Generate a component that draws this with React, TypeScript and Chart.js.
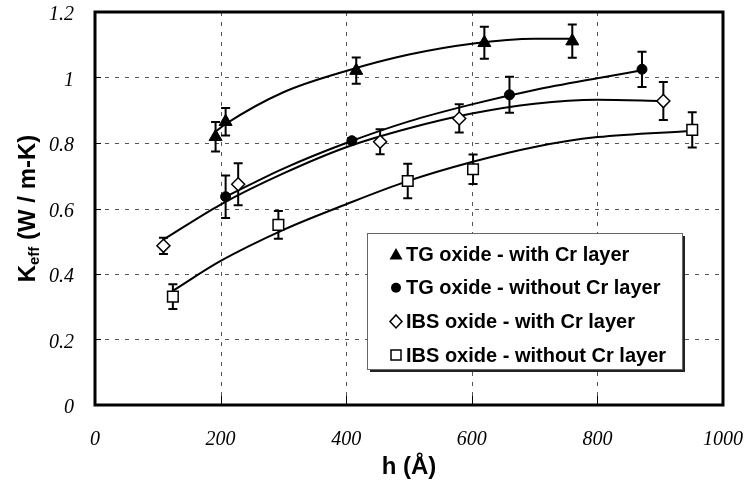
import React, { useEffect, useRef } from "react";
import { Chart, registerables } from "chart.js";
Chart.register(...registerables);

// ---- axis ticks ----
const xTicks = [0, 200, 400, 600, 800, 1000];
const yTicks = [0, 0.2, 0.4, 0.6, 0.8, 1, 1.2];

// ---- legend labels ----
const seriesNames = [
  "TG oxide - with Cr layer",
  "TG oxide - without Cr layer",
  "IBS oxide - with Cr layer",
  "IBS oxide - without Cr layer",
];

// ---- measured points (h in Å, Keff in W/m-K, error ±) ----
const tgCrH = [192, 208, 416, 620, 760];
const tgCrK = [0.819, 0.865, 1.021, 1.106, 1.111];
const tgCrErr = [0.045, 0.042, 0.04, 0.049, 0.051];

const tgNoH = [208, 409, 660, 871];
const tgNoK = [0.636, 0.807, 0.947, 1.025];
const tgNoErr = [0.065, 0.008, 0.055, 0.054];

const ibsCrH = [109, 228, 454, 580, 905];
const ibsCrK = [0.486, 0.674, 0.804, 0.875, 0.928];
const ibsCrErr = [0.025, 0.064, 0.038, 0.043, 0.058];

const ibsNoH = [124, 292, 498, 602, 951];
const ibsNoK = [0.331, 0.55, 0.684, 0.72, 0.84];
const ibsNoErr = [0.038, 0.042, 0.053, 0.045, 0.054];

// ---- trend curves ----
const tgCrFitH = [192, 208, 300, 400, 500, 600, 700, 760];
const tgCrFitK = [0.835, 0.858, 0.955, 1.02, 1.07, 1.103, 1.118, 1.118];
const tgNoFitH = [208, 300, 400, 500, 600, 700, 800, 871];
const tgNoFitK = [0.636, 0.722, 0.8, 0.866, 0.918, 0.962, 0.998, 1.022];
const ibsCrFitH = [109, 200, 300, 400, 500, 600, 700, 800, 905];
const ibsCrFitK = [0.505, 0.612, 0.707, 0.787, 0.845, 0.89, 0.92, 0.932, 0.928];
const ibsNoFitH = [125, 200, 300, 400, 500, 600, 700, 800, 951];
const ibsNoFitK = [0.35, 0.44, 0.535, 0.613, 0.685, 0.742, 0.788, 0.818, 0.837];

const pts = (xs: number[], ys: number[]) => xs.map((x, i) => ({ x, y: ys[i] }));

const SANS = "'Liberation Sans', Arial, sans-serif";
const SERIF = "'Liberation Serif', 'Times New Roman', serif";

const errorSets = [
  { h: tgCrH, k: tgCrK, e: tgCrErr },
  { h: tgNoH, k: tgNoK, e: tgNoErr },
  { h: ibsCrH, k: ibsCrK, e: ibsCrErr },
  { h: ibsNoH, k: ibsNoK, e: ibsNoErr },
];

function drawMarker(ctx: CanvasRenderingContext2D, kind: number, cx: number, cy: number) {
  ctx.save();
  ctx.lineWidth = 1.5;
  ctx.strokeStyle = "#000";
  ctx.beginPath();
  if (kind === 0) {
    ctx.moveTo(cx, cy - 6);
    ctx.lineTo(cx + 6.5, cy + 5.5);
    ctx.lineTo(cx - 6.5, cy + 5.5);
    ctx.closePath();
    ctx.fillStyle = "#000";
    ctx.fill();
  } else if (kind === 1) {
    ctx.arc(cx, cy, 5, 0, Math.PI * 2);
    ctx.fillStyle = "#000";
    ctx.fill();
  } else if (kind === 2) {
    ctx.moveTo(cx, cy - 6.5);
    ctx.lineTo(cx + 6, cy);
    ctx.lineTo(cx, cy + 6.5);
    ctx.lineTo(cx - 6, cy);
    ctx.closePath();
    ctx.fillStyle = "#fff";
    ctx.fill();
    ctx.stroke();
  } else {
    ctx.rect(cx - 5, cy - 5, 10, 10);
    ctx.fillStyle = "#fff";
    ctx.fill();
    ctx.stroke();
  }
  ctx.restore();
}

const decorPlugin = {
  id: "decor",
  beforeDatasetsDraw(chart: any) {
    const { ctx, chartArea: a, scales } = chart;
    const xs = scales.x;
    const ys = scales.y;
    ctx.save();
    // dashed grid
    ctx.strokeStyle = "#555";
    ctx.lineWidth = 1;
    ctx.setLineDash([4, 6]);
    for (const v of xTicks) {
      if (v <= xTicks[0] || v >= xTicks[xTicks.length - 1]) continue;
      const px = Math.round(xs.getPixelForValue(v)) + 0.5;
      ctx.beginPath();
      ctx.moveTo(px, a.top);
      ctx.lineTo(px, a.bottom);
      ctx.stroke();
    }
    for (const v of yTicks) {
      if (v <= yTicks[0] || v >= yTicks[yTicks.length - 1]) continue;
      const py = Math.round(ys.getPixelForValue(v)) + 0.5;
      ctx.beginPath();
      ctx.moveTo(a.left, py);
      ctx.lineTo(a.right, py);
      ctx.stroke();
    }
    ctx.setLineDash([]);
    // inward tick marks
    ctx.strokeStyle = "#000";
    for (const v of xTicks) {
      const px = Math.round(xs.getPixelForValue(v)) + 0.5;
      ctx.beginPath();
      ctx.moveTo(px, a.bottom);
      ctx.lineTo(px, a.bottom - 9);
      ctx.stroke();
    }
    for (const v of yTicks) {
      const py = Math.round(ys.getPixelForValue(v)) + 0.5;
      ctx.beginPath();
      ctx.moveTo(a.left, py);
      ctx.lineTo(a.left + 6, py);
      ctx.stroke();
    }
    // error bars
    ctx.lineWidth = 2;
    ctx.strokeStyle = "#000";
    for (const s of errorSets) {
      s.h.forEach((h, i) => {
        const px = xs.getPixelForValue(h);
        const top = ys.getPixelForValue(s.k[i] + s.e[i]);
        const bot = ys.getPixelForValue(s.k[i] - s.e[i]);
        ctx.beginPath();
        ctx.moveTo(px, top);
        ctx.lineTo(px, bot);
        ctx.moveTo(px - 4.5, top);
        ctx.lineTo(px + 4.5, top);
        ctx.moveTo(px - 4.5, bot);
        ctx.lineTo(px + 4.5, bot);
        ctx.stroke();
      });
    }
    ctx.restore();
  },
  afterDatasetsDraw(chart: any) {
    const { ctx, chartArea: a } = chart;
    ctx.save();
    // plot frame
    ctx.strokeStyle = "#000";
    ctx.lineWidth = 3;
    ctx.strokeRect(a.left, a.top, a.right - a.left, a.bottom - a.top);

    // legend box
    const lx = 367, ly = 233, lw = 315, lh = 136;
    ctx.fillStyle = "#222";
    ctx.fillRect(lx + 3, ly + 3, lw, lh);
    ctx.fillStyle = "#fff";
    ctx.fillRect(lx, ly, lw, lh);
    ctx.strokeStyle = "#666";
    ctx.lineWidth = 1;
    ctx.strokeRect(lx + 0.5, ly + 0.5, lw, lh);
    ctx.font = `bold 20px ${SANS}`;
    ctx.fillStyle = "#000";
    ctx.textAlign = "left";
    ctx.textBaseline = "middle";
    seriesNames.forEach((name, i) => {
      const cy = 254 + i * 33.7;
      drawMarker(ctx, i, 396, cy);
      ctx.fillStyle = "#000";
      ctx.fillText(name, 406, cy + 1);
    });

    // x axis title
    ctx.font = `bold 24px ${SANS}`;
    ctx.textAlign = "center";
    ctx.textBaseline = "middle";
    ctx.fillText("h (Å)", (a.left + a.right) / 2, 467);

    // y axis title with subscript
    const cyT = (a.top + a.bottom) / 2;
    ctx.translate(35, cyT);
    ctx.rotate(-Math.PI / 2);
    ctx.textAlign = "left";
    ctx.textBaseline = "alphabetic";
    const big = `bold 24px ${SANS}`;
    const small = `bold 15px ${SANS}`;
    const partK = "K";
    const partSub = "eff";
    const partRest = " (W / m-K)";
    ctx.font = big;
    const wK = ctx.measureText(partK).width;
    const wR = ctx.measureText(partRest).width;
    ctx.font = small;
    const wS = ctx.measureText(partSub).width;
    let x0 = -(wK + wS + wR) / 2;
    ctx.font = big;
    ctx.fillText(partK, x0, 0);
    x0 += wK;
    ctx.font = small;
    ctx.fillText(partSub, x0, 4);
    x0 += wS;
    ctx.font = big;
    ctx.fillText(partRest, x0, 0);
    ctx.restore();
  },
};

export default function App() {
  const ref = useRef<HTMLCanvasElement>(null);
  useEffect(() => {
    const canvas = ref.current!;
    const markerBase = { showLine: false, borderColor: "#000", order: 0 };
    const lineBase = {
      showLine: true,
      pointRadius: 0,
      borderColor: "#000",
      borderWidth: 2,
      cubicInterpolationMode: "monotone" as const,
      fill: false,
      order: 5,
    };
    const hiddenGrid = (len: number) => ({
      display: true,
      drawOnChartArea: false,
      drawTicks: true,
      tickLength: len,
      color: "rgba(0,0,0,0)",
    });
    const chart = new Chart(canvas, {
      type: "scatter",
      data: {
        datasets: [
          { ...markerBase, label: seriesNames[0], data: pts(tgCrH, tgCrK), pointStyle: "triangle", pointRadius: 7.5, backgroundColor: "#000", borderWidth: 1 },
          { ...markerBase, label: seriesNames[1], data: pts(tgNoH, tgNoK), pointStyle: "circle", pointRadius: 5, backgroundColor: "#000", borderWidth: 1 },
          { ...markerBase, label: seriesNames[2], data: pts(ibsCrH, ibsCrK), pointStyle: "rectRot", pointRadius: 6.5, backgroundColor: "#fff", borderWidth: 1.5 },
          { ...markerBase, label: seriesNames[3], data: pts(ibsNoH, ibsNoK), pointStyle: "rect", pointRadius: 7.5, backgroundColor: "#fff", borderWidth: 1.5 },
          { ...lineBase, label: "fit1", data: pts(tgCrFitH, tgCrFitK) },
          { ...lineBase, label: "fit2", data: pts(tgNoFitH, tgNoFitK) },
          { ...lineBase, label: "fit3", data: pts(ibsCrFitH, ibsCrFitK) },
          { ...lineBase, label: "fit4", data: pts(ibsNoFitH, ibsNoFitK) },
        ] as any,
      },
      options: {
        animation: false,
        responsive: false,
        devicePixelRatio: 1,
        layout: { padding: { top: 12, right: 21, left: 0, bottom: 0 } },
        plugins: { legend: { display: false }, tooltip: { enabled: false } },
        scales: {
          x: {
            type: "linear",
            min: xTicks[0],
            max: xTicks[xTicks.length - 1],
            afterBuildTicks: (s: any) => { s.ticks = xTicks.map((v) => ({ value: v })); },
            afterFit: (s: any) => { s.height = 79; },
            grid: hiddenGrid(25),
            border: { display: false },
            ticks: {
              padding: 0,
              color: "#000",
              font: { family: SERIF, size: 20, style: "italic", lineHeight: 1 },
              callback: (v: any) => String(v),
            },
          },
          y: {
            type: "linear",
            min: yTicks[0],
            max: yTicks[yTicks.length - 1],
            afterBuildTicks: (s: any) => { s.ticks = yTicks.map((v) => ({ value: v })); },
            afterFit: (s: any) => { s.width = 95; },
            grid: hiddenGrid(21),
            border: { display: false },
            ticks: {
              padding: 0,
              labelOffset: 3,
              color: "#000",
              font: { family: SERIF, size: 20, style: "italic", lineHeight: 1 },
              callback: (v: any) => String(Number(Number(v).toFixed(1))),
            },
          },
        },
      },
      plugins: [decorPlugin],
    });
    return () => chart.destroy();
  }, []);
  return (
    <div style={{ position: "fixed", left: 0, top: 0, width: 744, height: 484, background: "#fff" }}>
      <canvas ref={ref} width={744} height={484} style={{ display: "block", width: 744, height: 484 }} />
    </div>
  );
}
